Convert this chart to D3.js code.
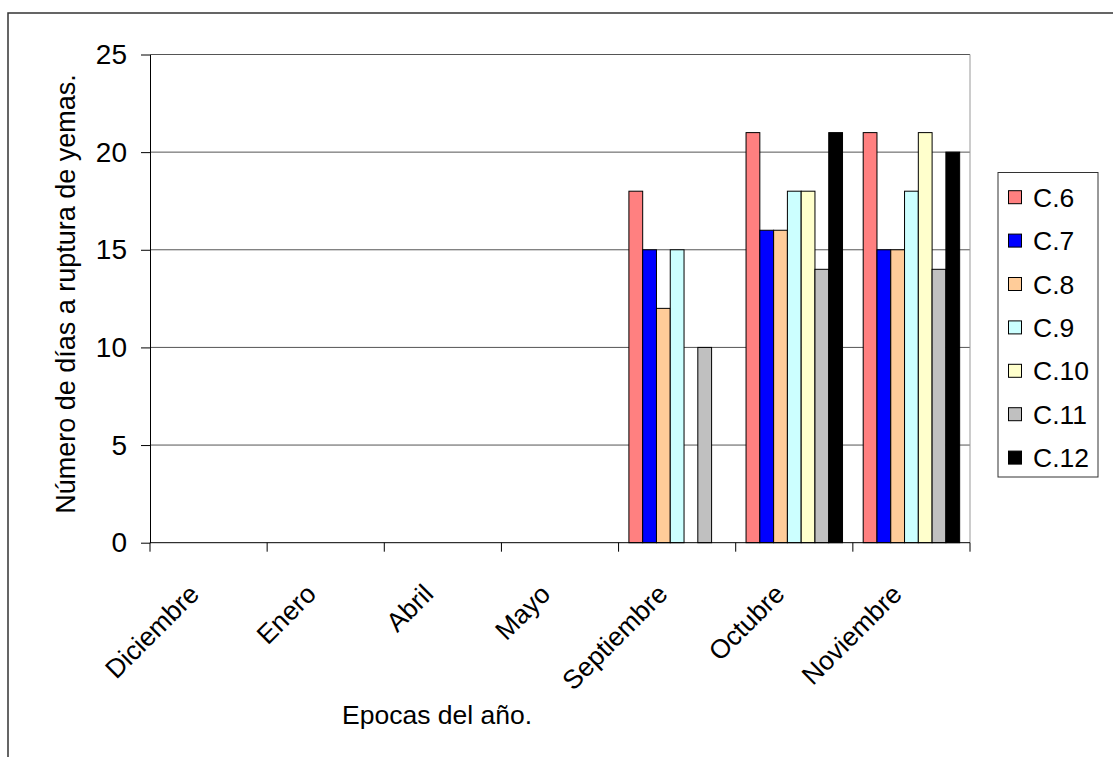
<!DOCTYPE html>
<html>
<head>
<meta charset="utf-8">
<script src="https://cdn.jsdelivr.net/npm/d3@7"></script>
<style>
  body { margin: 0; background: #fff; }
  svg { display: block; font-family: "Liberation Sans", Arial, sans-serif; }
</style>
</head>
<body>
<svg id="chart" width="1113" height="757"></svg>
<script>
const months = ["Diciembre", "Enero", "Abril", "Mayo", "Septiembre", "Octubre", "Noviembre"];
const seriesNames = ["C.6", "C.7", "C.8", "C.9", "C.10", "C.11", "C.12"];
const seriesColors = ["#ff8080", "#0000ff", "#ffcc99", "#ccffff", "#ffffcc", "#c0c0c0", "#000000"];
const c6 = [null, null, null, null, 18, 21, 21];
const c7 = [null, null, null, null, 15, 16, 15];
const c8 = [null, null, null, null, 12, 16, 15];
const c9 = [null, null, null, null, 15, 18, 18];
const c10 = [null, null, null, null, null, 18, 21];
const c11 = [null, null, null, null, 10, 14, 14];
const c12 = [null, null, null, null, null, 21, 20];
const yTicks = [0, 5, 10, 15, 20, 25];

const seriesValues = [c6, c7, c8, c9, c10, c11, c12];

const svg = d3.select("#chart");
const plot = { left: 150, right: 970, top: 54.5, bottom: 542.7 };

// outer chart border (runs off the right and bottom of the picture)
svg.append("rect")
  .attr("x", 8).attr("y", 13)
  .attr("width", 1200).attr("height", 900)
  .attr("fill", "none").attr("stroke", "#333").attr("stroke-width", 1.5);

const x = d3.scaleBand().domain(months).range([plot.left, plot.right]).padding(0);
const x1 = d3.scaleBand().domain(seriesNames).range([0, x.bandwidth()]).paddingInner(0).paddingOuter(0.75);
const y = d3.scaleLinear().domain([0, 25]).range([plot.bottom, plot.top]);

// gridlines
svg.append("g")
  .selectAll("line")
  .data(yTicks.filter((d) => d > 0))
  .join("line")
  .attr("x1", plot.left).attr("x2", plot.right)
  .attr("y1", (d) => y(d)).attr("y2", (d) => y(d))
  .attr("stroke", "#555").attr("stroke-width", 1);

// plot area right border
svg.append("line")
  .attr("x1", plot.right).attr("x2", plot.right)
  .attr("y1", plot.top).attr("y2", plot.bottom)
  .attr("stroke", "#999");

// bars
const barData = [];
months.forEach((m, i) => {
  seriesNames.forEach((s, j) => {
    const v = seriesValues[j][i];
    if (v != null) barData.push({ month: m, series: s, value: v, color: seriesColors[j] });
  });
});

svg.append("g")
  .selectAll("rect")
  .data(barData)
  .join("rect")
  .attr("x", (d) => x(d.month) + x1(d.series))
  .attr("y", (d) => y(d.value))
  .attr("width", x1.bandwidth())
  .attr("height", (d) => y(0) - y(d.value))
  .attr("fill", (d) => d.color)
  .attr("stroke", "#000")
  .attr("stroke-width", 1);

// y axis
const yAxis = svg.append("g")
  .attr("transform", `translate(${plot.left},0)`)
  .call(d3.axisLeft(y).tickValues(yTicks).tickSize(9).tickPadding(14).tickSizeOuter(0));
yAxis.select(".domain").attr("stroke", "#000");
yAxis.selectAll(".tick line").attr("stroke", "#000");
yAxis.selectAll(".tick text").attr("font-size", 28).attr("fill", "#000").attr("font-family", "Liberation Sans, Arial, sans-serif");

// x axis: ticks at category boundaries
const xAxis = svg.append("g").attr("transform", `translate(0,${plot.bottom})`);
xAxis.append("line")
  .attr("x1", plot.left).attr("x2", plot.right)
  .attr("stroke", "#000");
const boundaries = months.map((m) => x(m)).concat([x.range()[1]]);
xAxis.selectAll(".xtick")
  .data(boundaries)
  .join("line")
  .attr("class", "xtick")
  .attr("x1", (d) => d).attr("x2", (d) => d)
  .attr("y1", 0).attr("y2", 9)
  .attr("stroke", "#000");
xAxis.selectAll(".xlabel")
  .data(months)
  .join("text")
  .attr("class", "xlabel")
  .attr("transform", (d) => `translate(${x(d) + x.bandwidth() / 2 - 8},${53}) rotate(-45)`)
  .attr("text-anchor", "end")
  .attr("font-size", 26.5)
  .attr("fill", "#000")
  .text((d) => d);

// axis titles
svg.append("text")
  .attr("x", 342).attr("y", 724)
  .attr("font-size", 26.5)
  .attr("fill", "#000")
  .text("Epocas del año.");

svg.append("text")
  .attr("transform", "translate(75,294) rotate(-90)")
  .attr("text-anchor", "middle")
  .attr("font-size", 27)
  .attr("fill", "#000")
  .text("Número de días a ruptura de yemas.");

// legend
const legend = svg.append("g");
legend.append("rect")
  .attr("x", 998).attr("y", 172.5)
  .attr("width", 100).attr("height", 304.5)
  .attr("fill", "#fff").attr("stroke", "#333");
const items = legend.selectAll(".item")
  .data(seriesNames)
  .join("g")
  .attr("class", "item")
  .attr("transform", (d, i) => `translate(1008,${197.7 + i * 43.4})`);
items.append("rect")
  .attr("x", 0.5).attr("y", -7)
  .attr("width", 13).attr("height", 13)
  .attr("fill", (d, i) => seriesColors[i])
  .attr("stroke", "#000");
items.append("text")
  .attr("x", 25).attr("y", 9)
  .attr("font-size", 26.5)
  .attr("fill", "#000")
  .text((d) => d);
</script>
</body>
</html>
